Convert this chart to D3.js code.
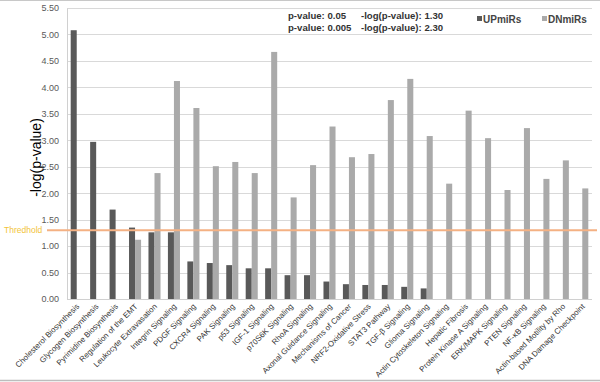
<!DOCTYPE html>
<html><head><meta charset="utf-8">
<script src="https://cdn.jsdelivr.net/npm/d3@7"></script>
<style>body{margin:0;background:#fff}svg{display:block;font-family:Arial,"Liberation Sans",sans-serif}</style>
</head><body><svg id="c" width="600" height="382"></svg>
<script>
const categories = ["Cholesterol Biosynthesis","Glycogen Biosynthesis","Pyrimidine  Biosynthesis","Regulation of the EMT","Leukocyte Extravasation","Integrin Signaling","PDGF Signaling","CXCR4 Signaling","PAK Signaling","p53 Signaling","IGF-1 Signaling","p70S6K Signaling","RhoA Signaling","Axonal Guidance Signaling","Mechanisms of Cancer","NRF2-Oxidative Stress","STAT3 Pathway","TGF-β Signaling","Glioma Signaling","Actin Cytoskeleton Signaling","Hepatic Fibrosis","Protein Kinase A Signaling","ERK/MAPK Signaling","PTEN Signaling","NF-κB Signaling","Actin-based Motility by Rho","DNA Damage Checkpoint"];
const upValues = [5.08,2.97,1.69,1.35,1.26,1.26,0.71,0.68,0.64,0.58,0.58,0.45,0.45,0.33,0.28,0.265,0.265,0.23,0.20,0,0,0,0,0,0,0,0];
const dnValues = [0,0,0,1.12,2.38,4.12,3.61,2.51,2.59,2.38,4.67,1.92,2.53,3.26,2.68,2.74,3.76,4.16,3.08,2.18,3.56,3.04,2.06,3.23,2.27,2.62,2.09];
const seriesNames = ["UPmiRs","DNmiRs"];
const yTicks = [0,0.5,1,1.5,2,2.5,3,3.5,4,4.5,5,5.5];
const threshold = 1.3;
const thresholdLabel = "Thredhold";
const noteLines = [["p-value: 0.05","-log(p-value): 1.30"],["p-value: 0.005","-log(p-value): 2.30"]];
const yTitle = "-log(p-value)";

const svg = d3.select("#c");
const L=67, R=592, T=8, B=299;
const x = d3.scaleBand().domain(categories).range([L,R]).paddingInner(0.38).paddingOuter(0.19);
const xs = d3.scaleBand().domain(seriesNames).range([0,x.bandwidth()]);
const y = d3.scaleLinear().domain([0,5.5]).range([B,T]);
const colors = {UPmiRs:"#595959", DNmiRs:"#aaaaaa"};

// frame lines
svg.append("line").attr("x1",0).attr("x2",600).attr("y1",0.5).attr("y2",0.5).attr("stroke","#c8c8c8");
svg.append("line").attr("x1",0).attr("x2",600).attr("y1",380.5).attr("y2",380.5).attr("stroke","#bdbdbd").attr("stroke-width",1.5);

// gridlines
svg.append("g").selectAll("line").data(yTicks.filter(d=>d>0)).join("line")
  .attr("x1",L).attr("x2",R).attr("y1",d=>Math.round(y(d))+0.5).attr("y2",d=>Math.round(y(d))+0.5)
  .attr("stroke","#d9d9d9");

// y axis
const ya = svg.append("g").attr("transform",`translate(${L},0)`)
  .call(d3.axisLeft(y).tickValues(yTicks).tickFormat(d3.format(".2f")).tickSize(0).tickPadding(8));
ya.select(".domain").attr("stroke","#d0d0d0");
ya.selectAll("text").attr("font-size",9).attr("fill","#595959");
svg.append("line").attr("x1",L).attr("x2",R).attr("y1",B+0.5).attr("y2",B+0.5).attr("stroke","#d0d0d0");

// bars
const g = svg.append("g");
categories.forEach((c,i)=>{
  const vals = [upValues[i], dnValues[i]];
  seriesNames.forEach((s,j)=>{
    if(vals[j]<=0) return;
    g.append("rect").attr("x",x(c)+xs(s)).attr("width",xs.bandwidth())
      .attr("y",y(vals[j])).attr("height",B-y(vals[j])).attr("fill",colors[s]);
  });
});

// x labels
const xa = svg.append("g").attr("transform",`translate(0,${B})`)
  .call(d3.axisBottom(x).tickSize(0).tickPadding(0));
xa.select(".domain").remove();
xa.selectAll("text").attr("font-size",7.9).attr("fill","#333")
  .attr("text-anchor","end").attr("dy",0)
  .attr("transform","translate(3,8) rotate(-45)");

// threshold
svg.append("line").attr("x1",47).attr("x2",597).attr("y1",y(threshold)).attr("y2",y(threshold))
  .attr("stroke","#f4b183").attr("stroke-width",2);
svg.append("text").attr("x",4).attr("y",y(threshold)+3).attr("font-size",8.5).attr("fill","#f2c43a").text(thresholdLabel);

// y title
svg.append("text").attr("transform",`translate(41,${(T+B)/2+4}) rotate(-90)`).attr("text-anchor","middle")
  .attr("font-size",14).attr("fill","#000").text(yTitle);

// notes
noteLines.forEach((ln,i)=>{
  svg.append("text").attr("x",288).attr("y",19+i*12).attr("font-size",9.6).attr("font-weight","bold").attr("fill","#333").text(ln[0]);
  svg.append("text").attr("x",361).attr("y",19+i*12).attr("font-size",9.6).attr("font-weight","bold").attr("fill","#333").text(ln[1]);
});

// legend
const lx=[477,542];
seriesNames.forEach((s,i)=>{
  svg.append("rect").attr("x",lx[i]).attr("y",16).attr("width",5).attr("height",5).attr("fill",colors[s]);
  svg.append("text").attr("x",lx[i]+6).attr("y",22.5).attr("font-size",10).attr("font-weight","bold").attr("fill","#444").text(s);
});
</script></body></html>
